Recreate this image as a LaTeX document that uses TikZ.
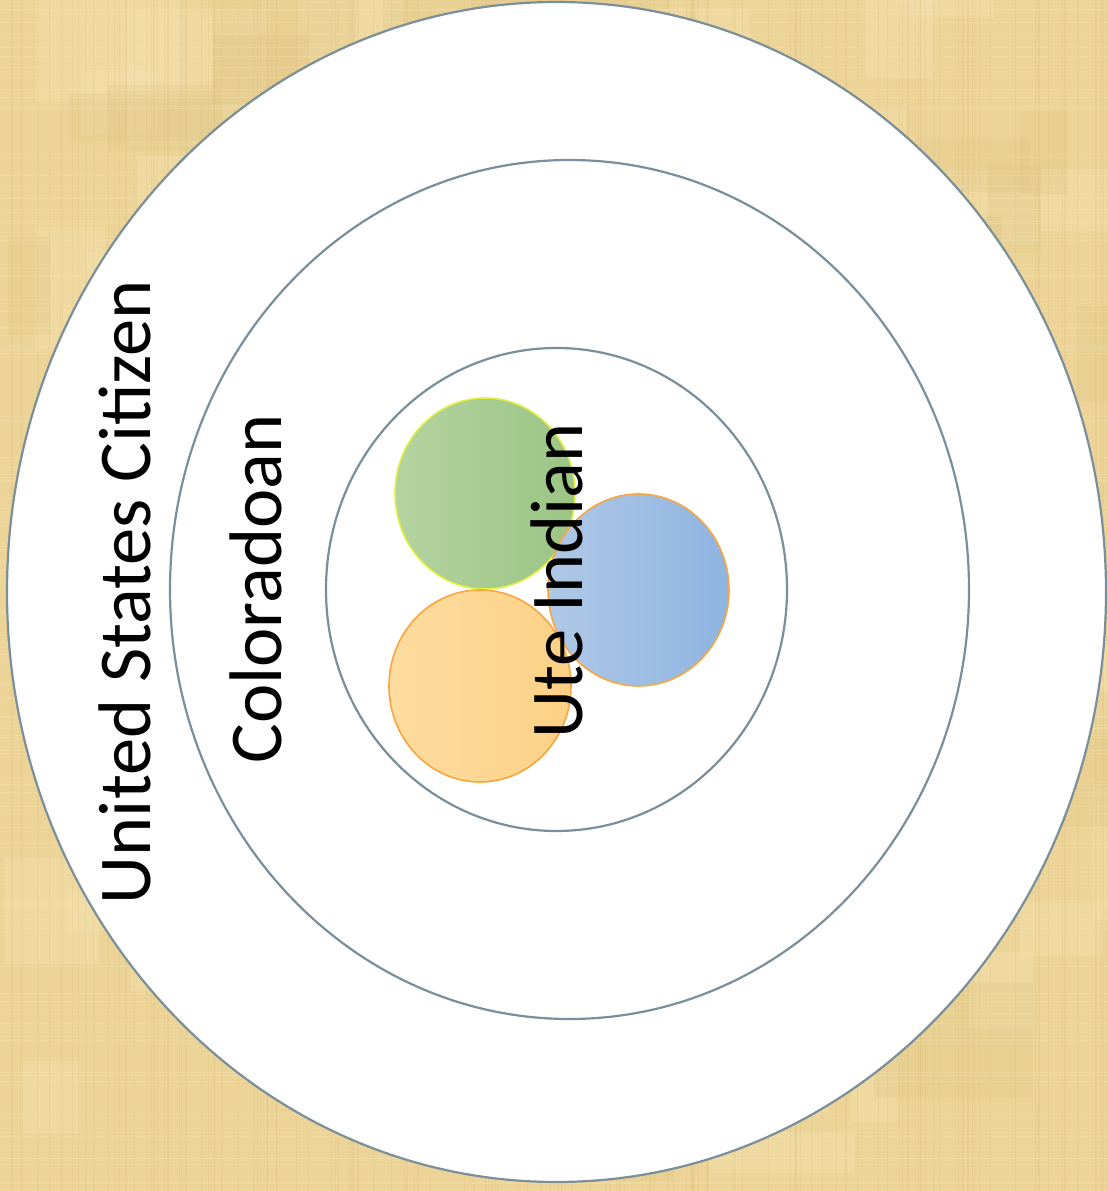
\documentclass[tikz,border=0pt]{standalone}
\usepackage{fontspec}
\setmainfont{Carlito}
\definecolor{parch}{RGB}{236,212,152}
\definecolor{parchlight}{RGB}{246,228,178}
\definecolor{parchdark}{RGB}{218,188,122}
\definecolor{ringcol}{RGB}{122,143,153}
\definecolor{gL}{RGB}{180,211,160}
\definecolor{gR}{RGB}{155,197,133}
\definecolor{bL}{RGB}{176,200,230}
\definecolor{bR}{RGB}{142,180,225}
\definecolor{oL}{RGB}{253,220,160}
\definecolor{oR}{RGB}{253,209,133}
\definecolor{gEdge}{RGB}{225,240,60}
\definecolor{oEdge}{RGB}{248,166,64}
\tikzset{
  ring/.style={draw=ringcol, line width=2.2pt, fill=white},
  lbl/.style={rotate=90, anchor=base, inner sep=0pt, font=\fontsize{74.5}{74.5}\selectfont},
}
\begin{document}
\begin{tikzpicture}[x=1pt,y=1pt]
\useasboundingbox (0,0) rectangle (1108,1191);
% parchment background
\fill[parch] (0,0) rectangle (1108,1191);
\pgfmathsetseed{7}
\foreach \i in {1,...,70}{
  \pgfmathsetmacro{\xa}{rnd*1108}
  \pgfmathsetmacro{\ya}{rnd*1191}
  \pgfmathsetmacro{\wa}{40+rnd*160}
  \pgfmathsetmacro{\ha}{20+rnd*120}
  \fill[parchlight, opacity=0.35] (\xa,\ya) rectangle ++(\wa,\ha);
}
\foreach \i in {1,...,70}{
  \pgfmathsetmacro{\xa}{rnd*1108}
  \pgfmathsetmacro{\ya}{rnd*1191}
  \pgfmathsetmacro{\wa}{30+rnd*140}
  \pgfmathsetmacro{\ha}{20+rnd*100}
  \fill[parchdark, opacity=0.2] (\xa,\ya) rectangle ++(\wa,\ha);
}
\foreach \i in {1,...,160}{
  \pgfmathsetmacro{\xa}{rnd*1108}
  \draw[parchdark, opacity=0.25, line width=0.8pt] (\xa,0) -- (\xa,1191);
}
\foreach \i in {1,...,120}{
  \pgfmathsetmacro{\ya}{rnd*1191}
  \draw[parchlight, opacity=0.35, line width=0.8pt] (0,\ya) -- (1108,\ya);
}
% rings
\path[ring] (556.5,599) ellipse [x radius=549.5, y radius=590];
\path[ring] (569.5,601.5) ellipse [x radius=399.5, y radius=429.5];
\path[ring] (556.5,601.5) ellipse [x radius=230.5, y radius=241.5];
% small circles
\shade[left color=gL, right color=gR] (485,697.5) ellipse [x radius=90, y radius=95.5];
\draw[gEdge, line width=1.6pt] (485,697.5) ellipse [x radius=90, y radius=95.5];
\shade[left color=oL, right color=oR] (480,505) ellipse [x radius=91, y radius=96];
\draw[oEdge, line width=1.6pt] (480,505) ellipse [x radius=91, y radius=96];
\shade[left color=bL, right color=bR] (638.5,601) ellipse [x radius=90.5, y radius=96];
\draw[oEdge, line width=1.6pt] (638.5,601) ellipse [x radius=90.5, y radius=96];
% labels
\node[lbl] (usc) at (150,599) {United States Citizen};
\node[lbl] (col) at (281,602) {Coloradoan};
\node[lbl] (ute) at (582,610) {Ute Indian};
\end{tikzpicture}
\end{document}
